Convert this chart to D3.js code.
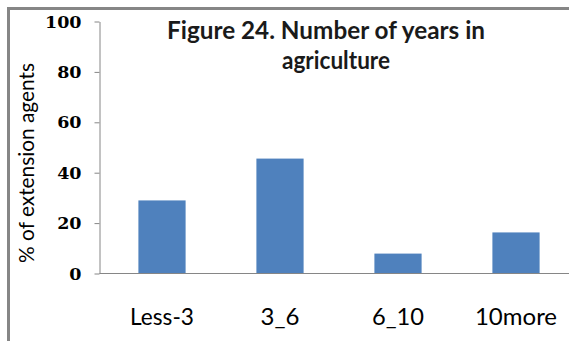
<!DOCTYPE html>
<html>
<head>
<meta charset="utf-8">
<script src="https://cdn.jsdelivr.net/npm/d3@7"></script>
<style>
  html, body { margin: 0; padding: 0; background: #fff; }
  svg { display: block; }
</style>
</head>
<body>
<script>
// Share of extension agents by years spent in agriculture
const categories = ["Less-3", "3_6", "6_10", "10more"];
const values = [29.0, 45.6, 7.9, 16.3];
const yTicks = [0, 20, 40, 60, 80, 100];
const titleLines = ["Figure 24. Number of years in", "agriculture"];
const yLabel = "% of extension agents";

const W = 569, H = 341;
const sansFont = "Lato, 'Open Sans', sans-serif";

const svg = d3.select("body").append("svg")
  .attr("width", W).attr("height", H);

// Squeeze a text element horizontally so its width is at most target
function squeeze(sel, target) {
  const w = sel.node().getComputedTextLength();
  if (w > target) {
    sel.attr("textLength", target).attr("lengthAdjust", "spacingAndGlyphs");
  }
}

// Outer chart frame (runs off the right and bottom edges)
svg.append("rect")
  .attr("x", 8.5).attr("y", 8.5)
  .attr("width", 640).attr("height", 420)
  .attr("fill", "none")
  .attr("stroke", "#868686")
  .attr("stroke-width", 3);

const x = d3.scaleBand()
  .domain(categories)
  .range([103, 575])
  .paddingInner(0.6)
  .paddingOuter(0.3);

const y = d3.scaleLinear()
  .domain([0, 100])
  .range([273.5, 21.5]);

// Bars
svg.append("g").selectAll("rect")
  .data(values)
  .join("rect")
  .attr("x", (d, i) => x(categories[i]))
  .attr("width", x.bandwidth())
  .attr("y", d => y(d))
  .attr("height", d => y(0) - y(d))
  .attr("fill", "#4F81BD");

// Y axis
const yAxis = svg.append("g")
  .attr("transform", "translate(99.5,0)")
  .call(d3.axisLeft(y).tickValues(yTicks).tickSize(5).tickPadding(13).tickSizeOuter(0));
yAxis.select(".domain").attr("stroke", "#868686");
yAxis.selectAll(".tick line").attr("stroke", "#868686");
yAxis.selectAll(".tick text")
  .attr("font-family", "'DejaVu Serif', serif")
  .attr("font-weight", "bold")
  .attr("font-size", 17.5)
  .attr("fill", "#000");

// X axis baseline
svg.append("line")
  .attr("x1", 99.5).attr("x2", W)
  .attr("y1", y(0)).attr("y2", y(0))
  .attr("stroke", "#868686");

// Category labels
const labelWidths = [64, 40, 52, 83];
svg.append("g").selectAll("text")
  .data(categories)
  .join("text")
  .attr("x", d => x(d) + x.bandwidth() / 2)
  .attr("y", 325)
  .attr("text-anchor", "middle")
  .attr("font-family", sansFont)
  .attr("font-size", 24)
  .attr("fill", "#000")
  .text(d => d)
  .each(function (d, i) { squeeze(d3.select(this), labelWidths[i]); });

// Y axis title
const yt = svg.append("text")
  .attr("transform", "translate(34,163) rotate(-90)")
  .attr("text-anchor", "middle")
  .attr("font-family", sansFont)
  .attr("font-size", 22)
  .attr("fill", "#000")
  .text(yLabel);
squeeze(yt, 200);

// Chart title, two lines
const titleX = [326, 336];
const titleY = [39, 69];
const titleW = [318, 108];
titleLines.forEach((line, i) => {
  const t = svg.append("text")
    .attr("x", titleX[i]).attr("y", titleY[i])
    .attr("text-anchor", "middle")
    .attr("font-family", sansFont)
    .attr("font-weight", "bold")
    .attr("font-size", 24.5)
    .attr("fill", "#1a1a1a")
    .text(line);
  squeeze(t, titleW[i]);
});
</script>
</body>
</html>
